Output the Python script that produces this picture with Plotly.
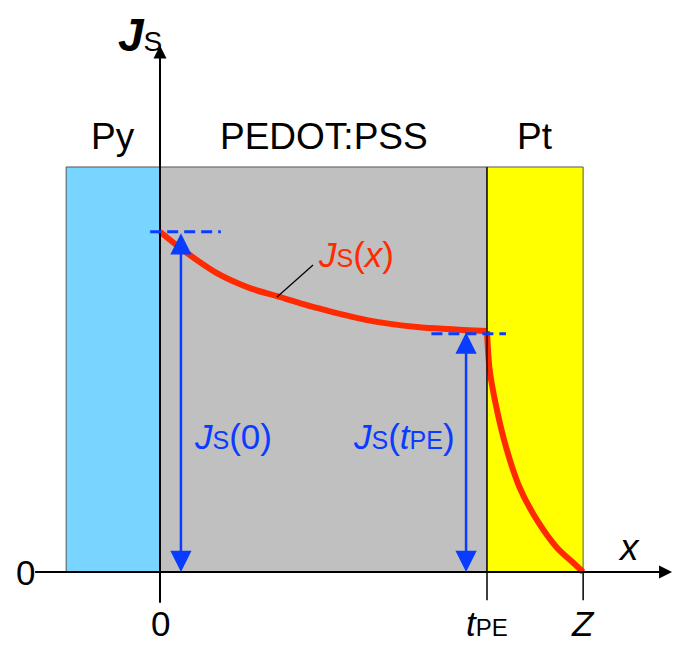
import plotly.graph_objects as go

# ---- data (x in units of t_PE, y in units of layer height) ----
region_names = ["Py", "PEDOT:PSS", "Pt"]
region_edges = [-0.287, 0.0, 1.0, 1.294]
region_colors = ["#78D5FF", "#C0C0C0", "#FFFF00"]
layer_top = 1.0

pedot_x = [0.0, 0.070, 0.174, 0.275, 0.358, 0.480, 0.633, 0.786, 1.0]
pedot_y = [0.840, 0.795, 0.738, 0.701, 0.681, 0.652, 0.622, 0.605, 0.595]
pt_x = [1.0, 1.008, 1.026, 1.058, 1.099, 1.153, 1.214, 1.262, 1.294]
pt_y = [0.595, 0.500, 0.417, 0.309, 0.210, 0.128, 0.060, 0.024, 0.0]

js0 = 0.840
js_tpe = 0.595
xtick_vals = [0.0, 1.0, 1.294]
xtick_text = ["0", "<i>t</i><span style='font-size:24px'>PE</span>", "<i>Z</i>"]

FONT = "Liberation Sans, Arial, sans-serif"
RED = "#FF2A00"
BLUE = "#0A3CFF"

fig = go.Figure()

shapes = []
for i, c in enumerate(region_colors):
    shapes.append(dict(type="rect", x0=region_edges[i], x1=region_edges[i + 1],
                       y0=0, y1=layer_top, fillcolor=c,
                       line=dict(color="#555555", width=1), layer="below"))
shapes.append(dict(type="line", x0=1.0, x1=1.0, y0=0, y1=layer_top,
                   line=dict(color="black", width=1.2)))
# axes
shapes.append(dict(type="line", x0=-0.382, x1=1.53, y0=0, y1=0,
                   line=dict(color="black", width=2)))
shapes.append(dict(type="line", x0=0, x1=0, y0=-0.076, y1=1.26,
                   line=dict(color="black", width=2)))
for xv in xtick_vals[1:]:
    shapes.append(dict(type="line", x0=xv, x1=xv, y0=-0.07, y1=0,
                       line=dict(color="black", width=1.5)))
# dashed reference lines
shapes.append(dict(type="line", x0=-0.03, x1=0.186, y0=js0, y1=js0,
                   line=dict(color=BLUE, width=3, dash="11px,6px")))
shapes.append(dict(type="line", x0=0.83, x1=1.058, y0=js_tpe - 0.007, y1=js_tpe - 0.007,
                   line=dict(color=BLUE, width=3, dash="11px,6px")))
# pointer line
shapes.append(dict(type="line", x0=0.358, x1=0.468, y0=0.679, y1=0.758,
                   line=dict(color="black", width=1.2)))

for cx, cy, sm in ((pedot_x, pedot_y, 0.8), (pt_x, pt_y, 0.9)):
    fig.add_trace(go.Scatter(x=cx, y=cy, mode="lines",
                             line=dict(color=RED, width=6, shape="spline", smoothing=sm),
                             hoverinfo="skip", showlegend=False))

ann = []
# axis arrowheads
ann.append(dict(x=1.566, y=0, ax=1.45, ay=0, xref="x", yref="y", axref="x", ayref="y",
                showarrow=True, arrowhead=2, arrowsize=1.3, arrowwidth=2, arrowcolor="black", text=""))
ann.append(dict(x=0, y=1.3, ax=0, ay=1.2, xref="x", yref="y", axref="x", ayref="y",
                showarrow=True, arrowhead=2, arrowsize=1.3, arrowwidth=2, arrowcolor="black", text=""))
# blue double arrows
for ax_x, top in ((0.064, js0), (0.936, js_tpe)):
    ann.append(dict(x=ax_x, y=0.0, ax=ax_x, ay=top, xref="x", yref="y", axref="x", ayref="y",
                    showarrow=True, arrowhead=2, startarrowhead=2, arrowside="end+start",
                    arrowsize=1.7, startarrowsize=1.7, arrowwidth=2.5, arrowcolor=BLUE, text=""))

def txt(x, y, s, size=34, color="black", xanchor="center"):
    ann.append(dict(x=x, y=y, xref="x", yref="y", text=s, showarrow=False,
                    font=dict(family=FONT, size=size, color=color), xanchor=xanchor, yanchor="middle"))

sub = "<span style='font-size:25px'>S</span>"
centers = [(region_edges[i] + region_edges[i + 1]) / 2 for i in range(3)]
for cx, name in zip(centers, region_names):
    txt(cx, 1.075, name, size=37)
for xv, t in zip(xtick_vals, xtick_text):
    txt(xv, -0.128, t, size=35)
txt(-0.41, 0.0, "0", size=35)
txt(1.435, 0.06, "<i>x</i>", size=37)
txt(-0.06, 1.325, "<b><i>J</i></b>" + "<span style='font-size:28px'>S</span>", size=46)
txt(0.6, 0.783, "<i>J</i>" + sub + "(<i>x</i>)", size=35, color=RED)
txt(0.222, 0.335, "<i>J</i>" + sub + "(0)", size=35, color=BLUE)
txt(0.745, 0.335, "<i>J</i>" + sub + "(<i>t</i><span style='font-size:25px'>PE</span>)", size=35, color=BLUE)

fig.update_layout(
    width=673, height=645, margin=dict(l=0, r=0, t=0, b=0),
    paper_bgcolor="white", plot_bgcolor="white",
    xaxis=dict(range=[-0.4893, 1.5688], visible=False, fixedrange=True),
    yaxis=dict(range=[-0.1802, 1.4123], visible=False, fixedrange=True),
    shapes=shapes, annotations=ann, showlegend=False,
)
fig.write_html("out.html")
